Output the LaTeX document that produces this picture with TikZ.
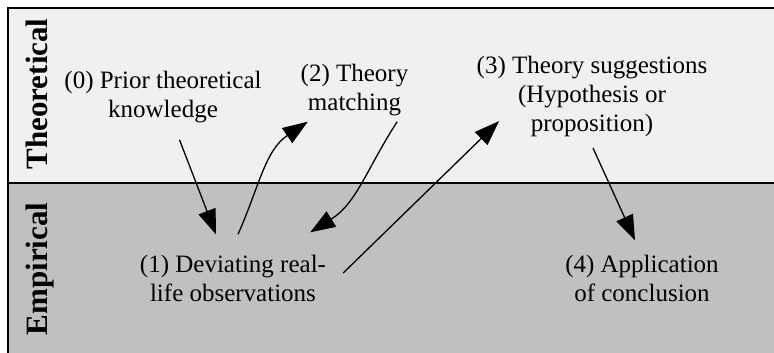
\documentclass[tikz,border=0pt]{standalone}
\usepackage{fontspec}
\setmainfont{Liberation Serif}
\usetikzlibrary{arrows.meta,calc}
\definecolor{theo}{HTML}{F0F0F0}
\definecolor{emp}{HTML}{C0C0C0}
\begin{document}
\begin{tikzpicture}[x=1pt,y=1pt,
  lbl/.style={font=\fontsize{25}{29}\selectfont, align=center, inner sep=0pt},
  side/.style={font=\fontsize{31}{37}\selectfont\bfseries, rotate=90, anchor=base, inner sep=0pt},
  arr/.style={line width=1.3pt, -{Triangle[length=25pt,width=18pt]}}]
\useasboundingbox (0,0) rectangle (774,353);
\clip (0,0) rectangle (774,353);
\fill[theo] (8,170) rectangle (790,345);
\fill[emp] (8,-10) rectangle (790,170);
\draw[line width=1.2pt] (8,170) -- (790,170);
\draw[line width=2pt] (8,-10) rectangle (790,345);

\node[lbl] (n0) at (163,256) {(0) Prior theoretical\\knowledge};
\node[lbl] (n2) at (354.5,263) {(2) Theory\\matching};
\node[lbl] (n3) at (592,256.5) {(3) Theory suggestions\\(Hypothesis or\\proposition)};
\node[lbl] (n1) at (233,74.5) {(1) Deviating real-\\life observations};
\node[lbl] (n4) at (642,74.5) {(4) Application\\of conclusion};
\node[side] (t) at (47,259) {Theoretical};
\node[side] (e) at (47,84) {Empirical};

\draw[arr, shorten <=18pt, shorten >=22pt] (n0) -- (n1);
\draw[arr] ($(n1.north)+(5,20.7)$) to[out=66,in=214] ($(n2.south west)+(7.3,-5.6)$);
\draw[arr] ($(n2.south east)+(-11.3,-5.6)$) to[out=237,in=32] ($(n1.north east)+(-16,22.7)$);
\draw[arr] ($(n1.east)+(17,5.5)$) -- ($(n3.south west)+(22.5,15.9)$);
\draw[arr] ($(n3.south)+(1,-11)$) -- ($(n4.north)+(-7,14.7)$);
\end{tikzpicture}
\end{document}
